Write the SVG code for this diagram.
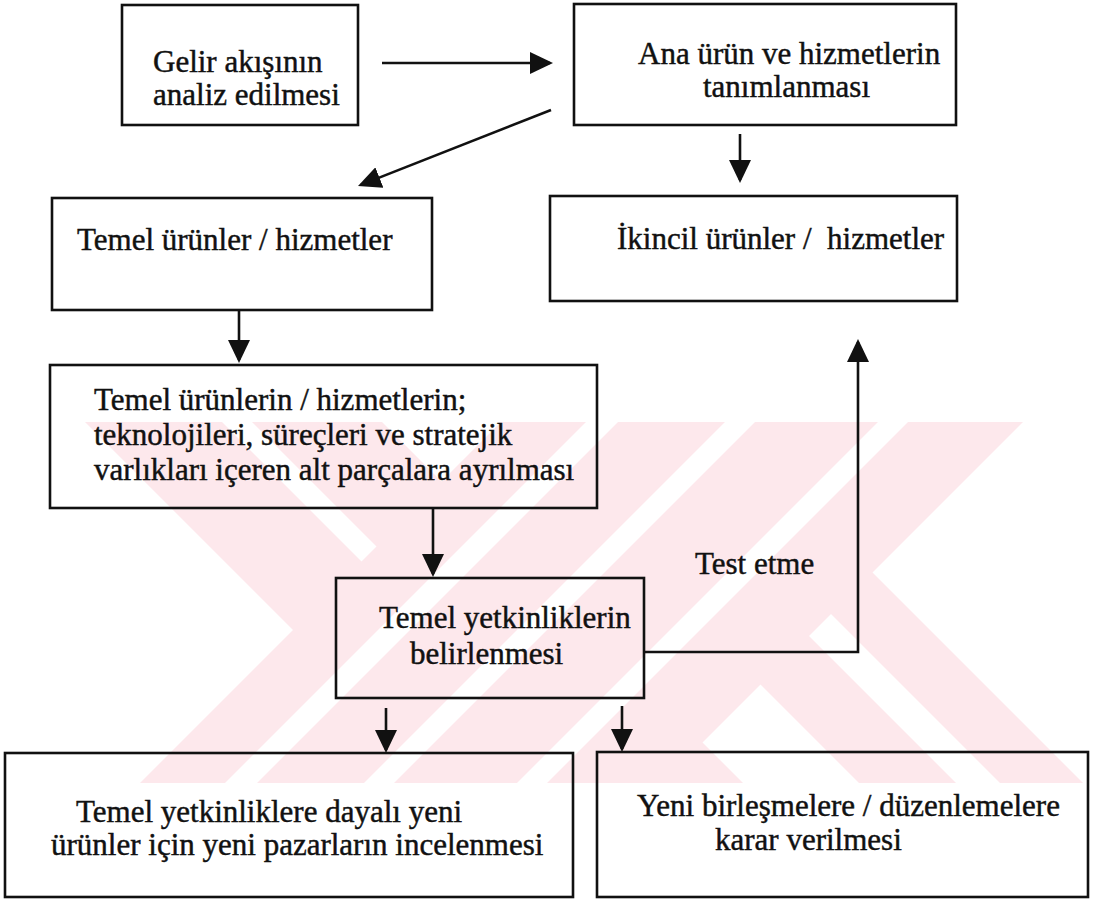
<svg xmlns="http://www.w3.org/2000/svg" width="1093" height="901" viewBox="0 0 1093 901">
  <defs>
    <marker id="arrow" markerUnits="userSpaceOnUse" markerWidth="24" markerHeight="22" refX="20" refY="11" orient="auto" viewBox="0 0 24 22">
      <path d="M0,0 L23,11 L0,22 z" fill="#111"/>
    </marker>
    <clipPath id="band">
      <rect x="0" y="422" width="1093" height="361"/>
    </clipPath>
  </defs>
  <style>
    .box { fill: none; stroke: #111; stroke-width: 2.6; }
    .lbl { font-family: "Liberation Serif", "Times New Roman", serif; font-size: 31px; fill: #111; stroke: #111; stroke-width: 0.45; }
    .edge { fill: none; stroke: #111; stroke-width: 2.6; marker-end: url(#arrow); }
    .wm { fill: #fde8ec; }
    .wm-gap { fill: #ffffff; }
  </style>

  <rect x="0" y="0" width="1093" height="901" fill="#ffffff"/>

  <!-- faint striped background emblem -->
  <g id="watermark" clip-path="url(#band)">
    <polygon class="wm" points="85,422 222,422 583,783 446,783"/>
    <polygon class="wm" points="252,422 382,422 743,783 613,783"/>
    <polygon class="wm" points="498,422 595,422 956,783 859,783"/>
    <polygon class="wm" points="639,422 722,422 1083,783 1000,783"/>
    <polygon class="wm" points="501,422 1023,422 662,783 140,783"/>
    <polygon class="wm-gap" points="586,422 618,422 257,783 225,783"/>
    <polygon class="wm-gap" points="725,422 755,422 394,783 364,783"/>
    <polygon class="wm-gap" points="878,422 908,422 547,783 517,783"/>
  </g>

  <!-- connectors -->
  <g id="connectors">
    <path class="edge" d="M382,63 H550"/>
    <path class="edge" d="M551,110 L360.8,184.9"/>
    <path class="edge" d="M740,134 V180"/>
    <path class="edge" d="M239,310 V360"/>
    <path class="edge" d="M433,508 V574"/>
    <path class="edge" d="M644,652 H858 V342"/>
    <path class="edge" d="M386,708 V750"/>
    <path class="edge" d="M622,706 V749"/>
    <text class="lbl" x="695" y="574">Test etme</text>
  </g>

  <g id="node-gelir">
    <rect class="box" x="122" y="5" width="236" height="120"/>
    <text class="lbl"><tspan x="153" y="72">Gelir akışının</tspan><tspan x="153" y="105">analiz edilmesi</tspan></text>
  </g>

  <g id="node-ana-urun">
    <rect class="box" x="574" y="4" width="382" height="121"/>
    <text class="lbl"><tspan x="638" y="64">Ana ürün ve hizmetlerin</tspan><tspan x="703" y="97">tanımlanması</tspan></text>
  </g>

  <g id="node-temel-urunler">
    <rect class="box" x="52" y="198" width="380" height="112"/>
    <text class="lbl" x="77" y="250">Temel ürünler / hizmetler</text>
  </g>

  <g id="node-ikincil">
    <rect class="box" x="550" y="196" width="407" height="105"/>
    <text class="lbl" x="617" y="249" xml:space="preserve">İkincil ürünler /  hizmetler</text>
  </g>

  <g id="node-alt-parcalar">
    <rect class="box" x="50" y="365" width="547" height="143"/>
    <text class="lbl"><tspan x="94" y="410">Temel ürünlerin / hizmetlerin;</tspan><tspan x="94" y="445">teknolojileri, süreçleri ve stratejik</tspan><tspan x="94" y="480">varlıkları içeren alt parçalara ayrılması</tspan></text>
  </g>

  <g id="node-yetkinlik">
    <rect class="box" x="336" y="578" width="308" height="120"/>
    <text class="lbl"><tspan x="379" y="628">Temel yetkinliklerin</tspan><tspan x="410" y="664">belirlenmesi</tspan></text>
  </g>

  <g id="node-yeni-pazar">
    <rect class="box" x="5" y="753" width="568" height="144"/>
    <text class="lbl"><tspan x="76" y="822">Temel yetkinliklere dayalı yeni</tspan><tspan x="51" y="855">ürünler için yeni pazarların incelenmesi</tspan></text>
  </g>

  <g id="node-birlesme">
    <rect class="box" x="597" y="752" width="491" height="145"/>
    <text class="lbl"><tspan x="637" y="816">Yeni birleşmelere / düzenlemelere</tspan><tspan x="715" y="850">karar verilmesi</tspan></text>
  </g>
</svg>
